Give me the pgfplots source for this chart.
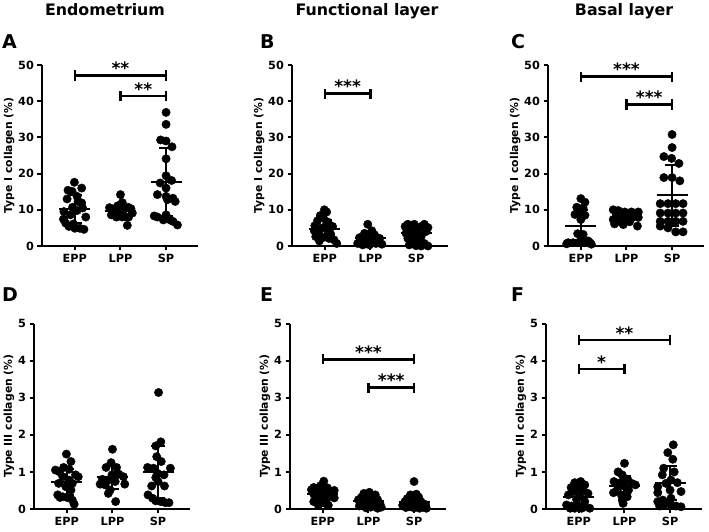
\documentclass[border=0pt]{standalone}
\usepackage{pgfplots}
\pgfplotsset{compat=1.18}
\usepackage{fontspec}
\setmainfont{DejaVu Sans}

\pgfplotsset{
 panel/.style={
  scale only axis, width=156pt, anchor=south west,
  xmin=-0.72, xmax=2.7,
  axis x line*=bottom, axis y line*=left,
  axis line style={line width=2pt, black},
  xtick={0,1,2}, xticklabels={EPP,LPP,SP},
  tick align=outside, major tick length=4.5pt,
  tick style={line width=2pt, black},
  tick label style={font=\bfseries\fontsize{11.3}{12}\selectfont},
  /pgf/number format/assume math mode=true,
  label style={font=\bfseries\fontsize{10.8}{12}\selectfont},
  ylabel shift=-3pt,
  clip=false,
 },
 row1/.style={panel, height=181pt, ymin=0, ymax=50, ytick={0,10,20,30,40,50}, ylabel={Type I collagen (\%)}},
 row2/.style={panel, height=185.5pt, ymin=0, ymax=5, ytick={0,1,2,3,4,5}, ylabel={Type III collagen (\%)}},
 dots/.style={only marks, mark=*, mark size=4.2pt, black, mark options={fill=black, draw=black}},
 msd/.style={black, line width=2pt, mark=none},
 brkl/.style={black, line width=2.4pt, mark=none},
}
\tikzset{stars/.style={font=\bfseries\fontsize{17}{17}\selectfont, anchor=base, yshift=1pt, inner sep=0pt}}

\newcommand\msd[3]{%
 \pgfmathsetmacro\mla{#1-0.34}\pgfmathsetmacro\mlb{#1+0.34}%
 \pgfmathsetmacro\mca{#1-0.15}\pgfmathsetmacro\mcb{#1+0.15}%
 \pgfmathsetmacro\mlo{#2-#3}\pgfmathsetmacro\mhi{#2+#3}%
 \edef\tmp{%
 \noexpand\addplot[msd] coordinates {(#1,\mlo) (#1,\mhi)};
 \noexpand\addplot[msd] coordinates {(\mla,#2) (\mlb,#2)};
 \noexpand\addplot[msd] coordinates {(\mca,\mlo) (\mcb,\mlo)};
 \noexpand\addplot[msd] coordinates {(\mca,\mhi) (\mcb,\mhi)};
 }\tmp}

\newcommand\brk[5]{%
 \pgfmathsetmacro\blo{#3-#4}\pgfmathsetmacro\bhi{#3+#4}\pgfmathsetmacro\bmid{(#1+#2)/2}%
 \edef\tmp{%
 \noexpand\addplot[brkl] coordinates {(#1,\blo) (#1,\bhi)};
 \noexpand\addplot[brkl] coordinates {(#1,#3) (#2,#3)};
 \noexpand\addplot[brkl] coordinates {(#2,\blo) (#2,\bhi)};
 \noexpand\node[stars] at (axis cs:\bmid,#3) {#5};
 }\tmp}

\begin{document}
\begin{tikzpicture}
\useasboundingbox (0,0) rectangle (709pt,532pt);

% titles
\node[font=\bfseries\fontsize{15.8}{18}\selectfont, anchor=base] at (105pt,516pt) {Endometrium};
\node[font=\bfseries\fontsize{15.8}{18}\selectfont, anchor=base] at (367pt,516pt) {Functional layer};
\node[font=\bfseries\fontsize{15.8}{18}\selectfont, anchor=base] at (624pt,516pt) {Basal layer};
% panel letters
\node[font=\bfseries\fontsize{19}{19}\selectfont, anchor=base west, inner sep=0pt] at (2pt,483pt) {A};
\node[font=\bfseries\fontsize{19}{19}\selectfont, anchor=base west, inner sep=0pt] at (260pt,483pt) {B};
\node[font=\bfseries\fontsize{19}{19}\selectfont, anchor=base west, inner sep=0pt] at (511pt,483pt) {C};
\node[font=\bfseries\fontsize{19}{19}\selectfont, anchor=base west, inner sep=0pt] at (2pt,230pt) {D};
\node[font=\bfseries\fontsize{19}{19}\selectfont, anchor=base west, inner sep=0pt] at (260pt,230pt) {E};
\node[font=\bfseries\fontsize{19}{19}\selectfont, anchor=base west, inner sep=0pt] at (511pt,230pt) {F};

% ---------- A ----------
\begin{axis}[row1, at={(42pt,286pt)}]
\addplot[dots] coordinates {(-0.01,17.6) (0.15,16.0) (-0.15,15.4) (-0.06,15.1) (0.05,13.7) (-0.17,13.0) (0.07,12.3) (0.15,11.9) (-0.05,10.7) (0.17,10.5) (0.05,9.8) (-0.24,9.5) (0.24,8.0) (-0.1,8.6) (-0.25,7.4) (-0.2,6.3) (-0.03,6.1) (0,4.9) (0.11,4.9) (0.2,4.6) (-0.13,5.4)};
\addplot[dots] coordinates {(1.0,14.2) (1.04,12.0) (1.17,10.7) (0.94,11.1) (0.76,10.6) (1.07,10.0) (0.85,9.5) (1.26,9.1) (0.96,8.6) (1.11,8.1) (0.8,8.6) (1.18,8.0) (0.91,8.0) (1.04,8.0) (1.15,5.7) (0.84,10.2) (1.0,10.5) (1.23,10.3)};
\addplot[dots] coordinates {(2.0,36.9) (2.0,33.6) (1.88,29.3) (2.0,29.0) (2.13,27.4) (2.0,24.1) (2.0,19.4) (2.12,18.1) (1.87,17.4) (2.0,16.0) (1.81,14.2) (2.0,13.7) (2.15,13.2) (2.2,12.3) (2.03,12.8) (1.74,8.3) (1.81,8.0) (2.0,8.6) (1.94,7.2) (2.09,7.2) (2.15,6.8) (2.25,5.8)};
\msd{0}{10.2}{3.9}
\msd{1}{9.7}{1.6}
\msd{2}{17.6}{9.4}
\brk{0}{2}{47.1}{1.4}{**}
\brk{1}{2}{41.4}{1.4}{**}
\end{axis}

% ---------- B ----------
\begin{axis}[row1, at={(292pt,286pt)}]
\addplot[dots] coordinates {(-0.01,10.0) (0.04,9.4) (-0.1,8.4) (-0.03,7.7) (-0.16,7.0) (0.07,6.6) (-0.22,5.6) (0.02,5.6) (0.17,5.4) (-0.09,4.9) (-0.23,4.2) (0.06,4.2) (-0.12,3.2) (0.13,3.2) (-0.2,2.6) (-0.05,2.3) (0.09,2.1) (0.2,1.7) (-0.12,1.4) (0.26,0.7)};
\addplot[dots] coordinates {(0.94,6.0) (1.03,4.2) (0.87,3.5) (1.09,3.1) (0.76,2.3) (0.94,2.3) (1.2,2.1) (0.81,1.4) (1.03,1.4) (0.72,0.7) (0.9,0.7) (1.12,0.7) (1.25,0.5) (0.98,0.3) (0.83,0.3)};
\addplot[dots] coordinates {(1.82,6.0) (1.96,6.0) (2.18,6.0) (2.11,5.4) (1.89,4.9) (2.04,4.4) (1.78,3.5) (2.22,4.0) (1.96,3.1) (2.11,2.6) (1.82,2.1) (2.04,1.7) (1.89,1.2) (2.18,0.7) (2.0,0.1) (2.11,0.0) (2.26,0.0) (1.85,0.3) (1.76,5.4) (2.26,5.1)};
\msd{0}{4.8}{2.4}
\msd{1}{2.1}{1.3}
\msd{2}{3.5}{2.0}
\brk{0}{1}{42.1}{1.4}{***}
\end{axis}

% ---------- C ----------
\begin{axis}[row1, at={(548pt,286pt)}]
\addplot[dots] coordinates {(0,13.1) (0.09,12.1) (-0.09,10.7) (0.05,10.5) (-0.04,9.4) (0.09,8.5) (-0.13,8.7) (0,7.3) (-0.07,3.4) (0.05,3.2) (-0.28,0.9) (-0.17,0.9) (-0.06,0.9) (0.09,0.9) (0.2,0.9) (0.01,1.8) (0.16,1.4) (-0.31,0.6) (0.23,0.5)};
\addplot[dots] coordinates {(0.71,10.0) (0.82,9.8) (0.96,9.4) (1.11,9.4) (1.26,9.4) (0.78,8.7) (1.04,8.7) (1.18,8.5) (0.93,7.9) (1.26,7.9) (0.71,7.3) (0.85,6.8) (1.07,6.7) (0.74,6.1) (0.93,5.9) (1.24,5.5) (1.12,7.8)};
\addplot[dots] coordinates {(2.0,30.8) (2.0,27.2) (1.82,24.7) (1.99,24.2) (2.15,22.8) (1.82,18.9) (2.0,18.9) (2.17,18.0) (1.74,11.7) (1.91,11.7) (2.08,11.7) (2.24,11.7) (1.74,9.1) (1.91,9.1) (2.08,9.1) (2.24,9.1) (1.74,6.8) (1.91,6.8) (2.08,6.8) (2.24,6.8) (1.74,5.5) (1.91,5.0) (2.08,3.9) (2.24,3.9)};
\msd{0}{5.5}{4.4}
\msd{1}{8.0}{1.3}
\msd{2}{14.0}{8.4}
\brk{0}{2}{46.8}{1.4}{***}
\brk{1}{2}{39.1}{1.4}{***}
\end{axis}

% ---------- D ----------
\begin{axis}[row2, at={(34pt,23pt)}]
\addplot[dots] coordinates {(-0.01,1.48) (0.09,1.28) (-0.07,1.12) (0.05,1.07) (-0.25,1.05) (-0.16,1.0) (0.19,0.92) (0.25,0.87) (-0.09,0.87) (0.05,0.78) (-0.18,0.69) (0.12,0.69) (-0.02,0.6) (0.09,0.51) (-0.2,0.38) (-0.09,0.33) (0.01,0.31) (0.12,0.24) (-0.15,0.31) (0.16,0.13)};
\addplot[dots] coordinates {(1.0,1.61) (0.97,1.25) (0.86,1.12) (1.09,1.12) (1.14,0.94) (0.99,0.92) (1.07,0.92) (1.24,0.87) (0.78,0.8) (0.91,0.78) (0.73,0.67) (0.84,0.65) (1.27,0.67) (1.06,0.74) (0.95,0.51) (0.91,0.42) (1.07,0.2)};
\addplot[dots] coordinates {(2.01,3.14) (2.06,1.81) (1.95,1.7) (1.97,1.41) (2.07,1.28) (1.77,1.12) (1.9,1.1) (2.27,1.1) (1.99,0.96) (2.13,0.92) (1.95,0.85) (2.14,0.62) (1.86,0.62) (2.0,0.74) (1.78,0.38) (1.88,0.29) (1.95,0.22) (2.06,0.2) (2.16,0.17) (2.24,0.17)};
\msd{0}{0.73}{0.36}
\msd{1}{0.85}{0.31}
\msd{2}{1.0}{0.71}
\end{axis}

% ---------- E ----------
\begin{axis}[row2, at={(290pt,23pt)}]
\addplot[dots] coordinates {(0.02,0.75) (-0.05,0.63) (-0.2,0.58) (0.1,0.57) (-0.12,0.55) (0.25,0.5) (-0.25,0.52) (0.05,0.5) (0.15,0.45) (-0.08,0.45) (0.2,0.42) (-0.2,0.4) (0,0.38) (0.1,0.35) (-0.15,0.32) (0.25,0.3) (-0.05,0.28) (0.08,0.25) (-0.2,0.2) (0.05,0.15) (-0.1,0.1) (0.12,0.1)};
\addplot[dots] coordinates {(1.02,0.45) (0.9,0.42) (1.15,0.38) (0.85,0.32) (1.05,0.3) (0.78,0.25) (1.2,0.25) (0.95,0.22) (1.1,0.2) (0.82,0.18) (1.25,0.15) (1.0,0.15) (0.9,0.1) (1.15,0.1) (0.8,0.08) (1.05,0.05) (1.28,0.05) (0.95,0.03) (1.2,0.02)};
\addplot[dots] coordinates {(2.0,0.74) (2.05,0.4) (1.92,0.38) (2.1,0.32) (1.85,0.28) (2.0,0.25) (1.8,0.2) (2.15,0.2) (1.95,0.15) (2.25,0.12) (1.75,0.1) (2.08,0.1) (1.9,0.06) (2.2,0.05) (1.82,0.04) (2.0,0.03) (2.12,0.02) (2.27,0.02)};
\msd{0}{0.40}{0.17}
\msd{1}{0.21}{0.12}
\msd{2}{0.19}{0.17}
\brk{0}{2}{4.03}{0.135}{***}
\brk{1}{2}{3.27}{0.135}{***}
\end{axis}

% ---------- F ----------
\begin{axis}[row2, at={(546pt,23pt)}]
\addplot[dots] coordinates {(0.04,0.74) (-0.09,0.71) (0.13,0.65) (-0.17,0.58) (-0.01,0.56) (0.09,0.51) (-0.12,0.47) (0.2,0.42) (-0.23,0.38) (0.02,0.35) (-0.05,0.26) (0.13,0.2) (-0.27,0.11) (-0.16,0.08) (-0.01,0.08) (0.13,0.06) (0.24,0.02) (0.06,0.02) (-0.09,0.02) (-0.19,0.02)};
\addplot[dots] coordinates {(1.0,1.23) (0.86,1.0) (0.95,0.92) (1.07,0.8) (0.77,0.74) (0.91,0.71) (1.16,0.69) (1.24,0.65) (0.99,0.62) (0.84,0.51) (1.09,0.51) (0.76,0.44) (0.93,0.38) (1.06,0.33) (0.95,0.24) (0.97,0.15)};
\addplot[dots] coordinates {(2.07,1.73) (1.95,1.52) (2.06,1.34) (1.86,1.1) (2.09,1.0) (1.83,0.92) (2.02,0.78) (2.16,0.71) (1.91,0.69) (1.73,0.6) (2.24,0.47) (2.0,0.51) (1.73,0.44) (2.02,0.29) (1.84,0.24) (1.73,0.2) (1.88,0.13) (2.02,0.11) (2.13,0.08) (2.24,0.06) (1.77,0.08)};
\msd{0}{0.33}{0.32}
\msd{1}{0.63}{0.26}
\msd{2}{0.70}{0.46}
\brk{0}{2}{4.55}{0.135}{**}
\brk{0}{1}{3.77}{0.135}{*}
\end{axis}
\end{tikzpicture}
\end{document}
